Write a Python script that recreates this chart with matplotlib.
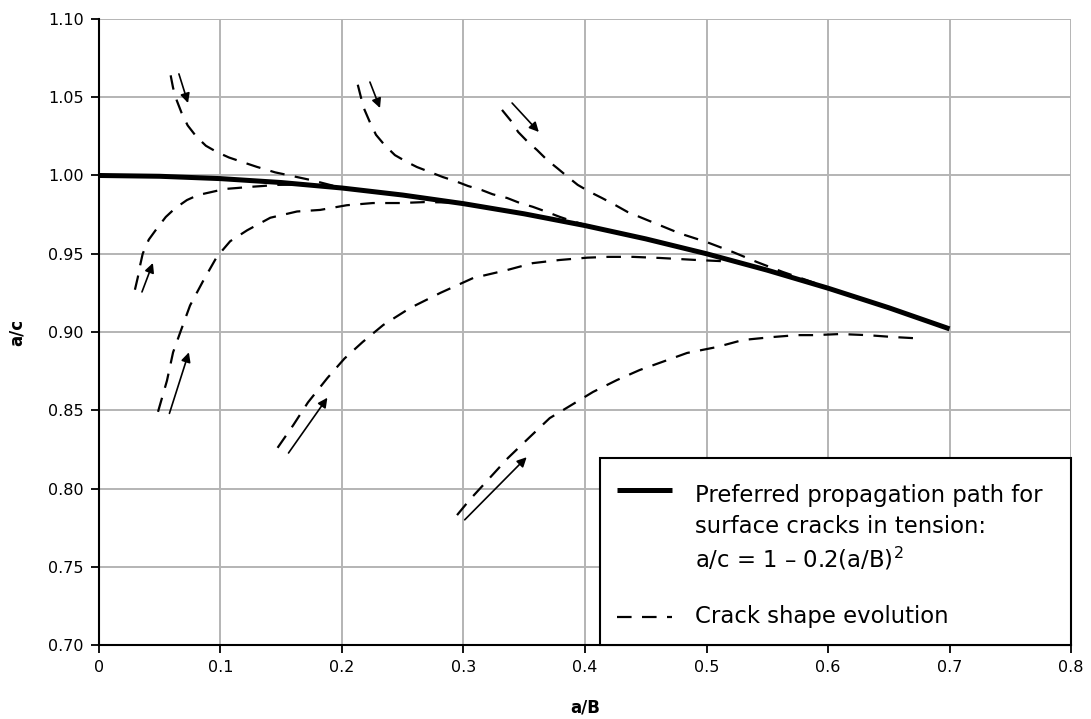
import numpy as np
import matplotlib
matplotlib.use("Agg")
import matplotlib.pyplot as plt
from matplotlib.patches import Rectangle
from matplotlib.lines import Line2D

plt.rcParams['font.family'] = ['DejaVu Sans']
plt.rcParams['lines.scale_dashes'] = False

# preferred path a/c = 1 - 0.2(a/B)^2
path_x = [0.0, 0.05, 0.1, 0.15, 0.2, 0.25, 0.3, 0.35, 0.4, 0.45, 0.5, 0.55, 0.6, 0.65, 0.7]
path_y = [1.0, 0.9995, 0.998, 0.9955, 0.992, 0.9875, 0.982, 0.9755, 0.968, 0.9595,
          0.95, 0.9395, 0.928, 0.9155, 0.902]

# crack shape evolution curves
ax_A = [0.059, 0.061, 0.064, 0.068, 0.073, 0.080, 0.088, 0.097, 0.107, 0.118, 0.130,
        0.145, 0.160, 0.175, 0.195, 0.215]
ay_A = [1.064, 1.056, 1.048, 1.040, 1.032, 1.025, 1.019, 1.015, 1.0115, 1.0086, 1.0055,
        1.002, 0.9995, 0.997, 0.993, 0.9905]

ax_B = [0.0296, 0.032, 0.034, 0.036, 0.041, 0.048, 0.055, 0.0626, 0.0724, 0.0815,
        0.093, 0.1037, 0.1136, 0.124, 0.135, 0.1465, 0.165, 0.19]
ay_B = [0.927, 0.935, 0.943, 0.950, 0.959, 0.9665, 0.9735, 0.979, 0.9843, 0.9875,
        0.9895, 0.9914, 0.992, 0.9927, 0.9933, 0.994, 0.9942, 0.9925]

ax_C = [0.0486, 0.056, 0.061, 0.067, 0.075, 0.086, 0.097, 0.108, 0.122, 0.141, 0.163,
        0.182, 0.204, 0.2255, 0.248, 0.268, 0.285, 0.30]
ay_C = [0.849, 0.869, 0.887, 0.900, 0.917, 0.933, 0.948, 0.958, 0.965, 0.973, 0.977,
        0.978, 0.981, 0.9824, 0.9824, 0.983, 0.9828, 0.982]

ax_D = [0.213, 0.2156, 0.218, 0.223, 0.228, 0.235, 0.2436, 0.2535, 0.2617, 0.2724,
        0.283, 0.293, 0.3037, 0.315, 0.324, 0.336, 0.3465, 0.357, 0.3687, 0.3794,
        0.389, 0.3975, 0.42]
ay_D = [1.058, 1.050, 1.043, 1.034, 1.026, 1.0195, 1.013, 1.0086, 1.0054, 1.0022,
        0.999, 0.9965, 0.9933, 0.9907, 0.988, 0.9856, 0.9824, 0.980, 0.9767, 0.9735,
        0.971, 0.969, 0.9647]

ax_E = [0.3317, 0.340, 0.345, 0.353, 0.3605, 0.3687, 0.377, 0.386, 0.394, 0.404,
        0.414, 0.4247, 0.435, 0.445, 0.456, 0.478, 0.500, 0.522, 0.5415, 0.563,
        0.583, 0.61]
ay_E = [1.0419, 1.034, 1.0278, 1.0214, 1.0163, 1.010, 1.0048, 0.999, 0.994, 0.9895,
        0.9856, 0.9812, 0.9767, 0.9735, 0.970, 0.963, 0.9575, 0.951, 0.9447, 0.9383,
        0.933, 0.9256]

ax_F = [0.147, 0.160, 0.172, 0.188, 0.202, 0.217, 0.234, 0.256, 0.281, 0.308, 0.336,
        0.357, 0.379, 0.402, 0.419, 0.4395, 0.4617, 0.492, 0.52]
ay_F = [0.826, 0.8406, 0.855, 0.8706, 0.883, 0.8936, 0.9045, 0.9153, 0.925, 0.9345,
        0.9396, 0.944, 0.946, 0.9475, 0.948, 0.948, 0.9473, 0.946, 0.945]

ax_G = [0.2947, 0.305, 0.320, 0.3366, 0.3547, 0.371, 0.386, 0.4066, 0.4263, 0.445,
        0.464, 0.484, 0.5086, 0.530, 0.5547, 0.5745, 0.589, 0.61, 0.632, 0.6535, 0.672]
ay_G = [0.783, 0.7927, 0.8054, 0.8195, 0.833, 0.845, 0.852, 0.8617, 0.8693, 0.8757,
        0.881, 0.8866, 0.8904, 0.8949, 0.8968, 0.898, 0.898, 0.8987, 0.898, 0.8968, 0.896]

curves = [(ax_A, ay_A), (ax_B, ay_B), (ax_C, ay_C), (ax_D, ay_D),
          (ax_E, ay_E), (ax_F, ay_F), (ax_G, ay_G)]

# arrows: start (x, y) -> end (x, y)
arrow_start = [(0.0658, 1.0649), (0.0354, 0.9256), (0.058, 0.848), (0.223, 1.0597),
               (0.340, 1.0463), (0.156, 0.8227), (0.301, 0.780)]
arrow_end = [(0.0733, 1.0463), (0.0444, 0.9441), (0.074, 0.887), (0.2313, 1.0431),
             (0.362, 1.0278), (0.188, 0.858), (0.352, 0.820)]

xticks = [0, 0.1, 0.2, 0.3, 0.4, 0.5, 0.6, 0.7, 0.8]
xticklabels = ['0', '0.1', '0.2', '0.3', '0.4', '0.5', '0.6', '0.7', '0.8']
yticks = [0.70, 0.75, 0.80, 0.85, 0.90, 0.95, 1.00, 1.05, 1.10]

legend_lines = ['Preferred propagation path for', 'surface cracks in tension:',
                'a/c = 1 \u2013 0.2(a/B)$^2$']
legend_dashed = 'Crack shape evolution'

dash = (0, (10.5, 7.5))

fig = plt.figure(figsize=(10.91, 7.19), dpi=100)
ax = fig.add_axes([0.0907, 0.1029, 0.8910, 0.8707])

ax.plot(path_x, path_y, color='black', lw=3.6, solid_capstyle='butt', zorder=4)
for cx, cy in curves:
    ax.plot(cx, cy, color='black', lw=1.6, linestyle=dash, zorder=3)

for s, e in zip(arrow_start, arrow_end):
    ax.annotate('', xy=e, xytext=s,
                arrowprops=dict(arrowstyle='-|>', lw=1.2, color='black',
                                mutation_scale=14, shrinkA=0, shrinkB=0),
                zorder=5)

ax.set_xlim(0, 0.8)
ax.set_ylim(0.70, 1.10)
ax.set_xticks(xticks)
ax.set_xticklabels(xticklabels)
ax.set_yticks(yticks)
ax.set_yticklabels(['%.2f' % v for v in yticks])
ax.grid(True, color='#b4b4b4', lw=1.4)
ax.set_axisbelow(True)
ax.tick_params(direction='out', length=6, width=1.3, labelsize=11.5, pad=5, colors='black')
for side in ['top', 'right']:
    ax.spines[side].set_visible(False)
for side in ['left', 'bottom']:
    ax.spines[side].set_linewidth(1.5)
    ax.spines[side].set_zorder(6)

ax.set_xlabel('a/B', fontsize=12, fontweight='bold', labelpad=17)
ax.set_ylabel('a/c', fontsize=12, fontweight='bold', labelpad=16)

# legend box
ax.add_patch(Rectangle((0.515, 0.0), 0.485, 0.299, transform=ax.transAxes,
                       facecolor='white', edgecolor='black', lw=1.5, zorder=7,
                       clip_on=False))
ax.add_line(Line2D([0.533, 0.5895], [0.2476, 0.2476], transform=ax.transAxes,
                   color='black', lw=3.6, solid_capstyle='butt', zorder=8))
ax.add_line(Line2D([0.533, 0.5895], [0.0447, 0.0447], transform=ax.transAxes,
                   color='black', lw=1.6, linestyle=dash, zorder=8))
for txt, yb in zip(legend_lines, [0.2284, 0.1789, 0.1246]):
    ax.text(0.613, yb, txt, transform=ax.transAxes, fontsize=16.4,
            va='baseline', ha='left', zorder=8)
ax.text(0.613, 0.0351, legend_dashed, transform=ax.transAxes,
        fontsize=16.4, va='baseline', ha='left', zorder=8)

fig.savefig('out.png', dpi=100)
